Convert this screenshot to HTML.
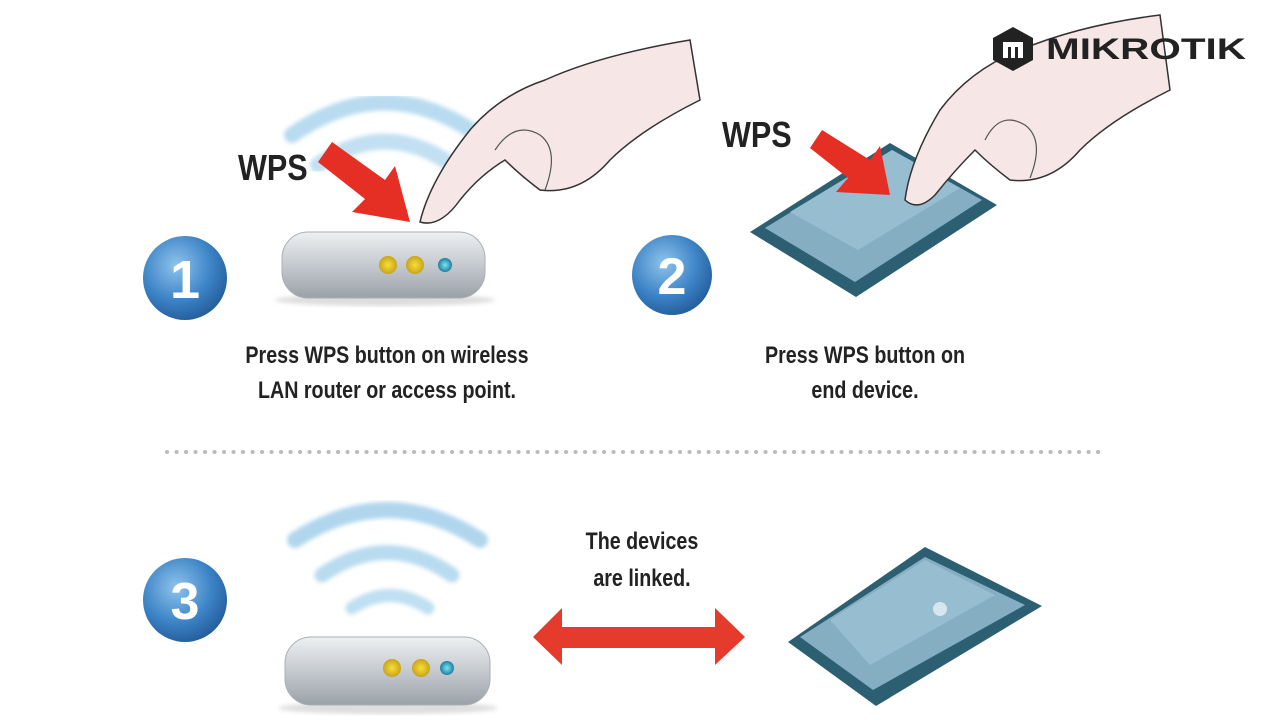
<!DOCTYPE html>
<html><head><meta charset="utf-8"><style>
html,body{margin:0;padding:0;background:#fff;width:1280px;height:720px;overflow:hidden}
svg{display:block}
text{font-family:"Liberation Sans",sans-serif}
</style></head><body>
<svg width="1280" height="720" viewBox="0 0 1280 720" xmlns="http://www.w3.org/2000/svg">
<defs>
<radialGradient id="cb" cx="0.4" cy="0.35" r="0.7"><stop offset="0" stop-color="#8fc3ec"/><stop offset="0.6" stop-color="#3c83c6"/><stop offset="1" stop-color="#225a98"/></radialGradient>
<linearGradient id="rt" x1="0" y1="0" x2="0" y2="1"><stop offset="0" stop-color="#eef0f2"/><stop offset="0.5" stop-color="#c5cacf"/><stop offset="1" stop-color="#9aa1a8"/></linearGradient>
<radialGradient id="yl"><stop offset="0" stop-color="#f8df3a"/><stop offset="1" stop-color="#c9a41a"/></radialGradient>
<radialGradient id="bl"><stop offset="0" stop-color="#7fe3f4"/><stop offset="1" stop-color="#1d7fa0"/></radialGradient>
<filter id="bx"><feGaussianBlur stdDeviation="2"/></filter>
</defs>

<!-- step 1 waves -->
<g filter="url(#bx)" fill="none" stroke-linecap="round">
<path d="M292,135 Q385,70 478,135" stroke-width="16" stroke="#b8dbf0"/>
<path d="M318,165 Q385,118 452,165" stroke-width="16" stroke="#c2e0f2"/>
</g>
<!-- hand 1 -->
<path d="M420,222 Q430,180 470,130 Q500,95 545,80 Q600,55 690,40 L700,100 Q640,130 610,160 Q580,195 540,190 Q520,175 505,160 Q480,175 460,200 Q440,228 420,222Z" fill="#f6e6e6" stroke="#333" stroke-width="1.5"/>
<path d="M495,150 Q515,120 540,135 Q560,150 545,190" fill="none" stroke="#555" stroke-width="1.2"/>
<!-- WPS 1 -->
<text x="238" y="180" font-size="36" font-weight="bold" fill="#222" transform="translate(238,180) scale(0.85,1) translate(-238,-180)">WPS</text>
<polygon points="318,162 332,142 385,180 395,166 410,222 352,212 365,199" fill="#e52f24"/>
<!-- router 1 -->
<ellipse cx="385" cy="300" rx="110" ry="6" fill="#ddd" filter="url(#bx)"/>
<rect x="282" y="232" width="203" height="66" rx="26" fill="url(#rt)" stroke="#a8afb5"/>
<circle cx="388" cy="265" r="9" fill="url(#yl)"/><circle cx="415" cy="265" r="9" fill="url(#yl)"/><circle cx="445" cy="265" r="7" fill="url(#bl)"/>
<!-- circle 1 -->
<circle cx="185" cy="278" r="42" fill="url(#cb)"/>
<text x="185" y="298" font-size="54" font-weight="bold" fill="#fff" text-anchor="middle">1</text>
<text x="387" y="363" font-size="24" font-weight="bold" fill="#222" text-anchor="middle" transform="translate(387,0) scale(0.82,1) translate(-387,0)">Press WPS button on wireless</text>
<text x="387" y="398" font-size="24" font-weight="bold" fill="#222" text-anchor="middle" transform="translate(387,0) scale(0.82,1) translate(-387,0)">LAN router or access point.</text>

<!-- step 2 device -->
<polygon points="750,232 890,143 997,205 856,297" fill="#2c5f72"/>
<polygon points="765,228 892,150 982,200 855,282" fill="#86aec2"/>
<polygon points="790,212 892,150 960,188 858,250" fill="#97bdd0"/>
<!-- hand 2 -->
<path d="M905,200 Q910,160 940,110 Q970,70 1020,50 Q1080,25 1160,15 L1170,90 Q1110,120 1080,150 Q1050,185 1010,180 Q990,165 975,150 Q955,170 935,195 Q918,212 905,200Z" fill="#f6e6e6" stroke="#333" stroke-width="1.5"/>
<path d="M985,140 Q1000,110 1025,125 Q1045,140 1030,178" fill="none" stroke="#555" stroke-width="1.2"/>
<text x="722" y="147" font-size="36" font-weight="bold" fill="#222" transform="translate(722,0) scale(0.85,1) translate(-722,0)">WPS</text>
<polygon points="810,148 822,130 870,160 880,146 890,195 836,192 848,178" fill="#e52f24"/>
<circle cx="672" cy="275" r="40" fill="url(#cb)"/>
<text x="672" y="294" font-size="52" font-weight="bold" fill="#fff" text-anchor="middle">2</text>
<text x="865" y="363" font-size="24" font-weight="bold" fill="#222" text-anchor="middle" transform="translate(865,0) scale(0.82,1) translate(-865,0)">Press WPS button on</text>
<text x="865" y="398" font-size="24" font-weight="bold" fill="#222" text-anchor="middle" transform="translate(865,0) scale(0.82,1) translate(-865,0)">end device.</text>

<!-- logo (on top of hand) -->
<g transform="translate(991,27)">
<polygon points="22,0 42,11 42,33 22,44 2,33 2,11" fill="#222"/>
<path d="M12,15 h20 v16 h-5 v-11 h-3 v11 h-4 v-11 h-3 v11 h-5z" fill="#fff"/>
</g>
<text x="1046" y="59" font-size="30" font-weight="bold" fill="#222" textLength="200" lengthAdjust="spacingAndGlyphs">MIKROTIK</text>

<!-- dotted line -->
<line x1="167" y1="452" x2="1105" y2="452" stroke="#bbb" stroke-width="4" stroke-dasharray="0.1 9.4" stroke-linecap="round"/>

<!-- step 3 -->
<circle cx="185" cy="600" r="42" fill="url(#cb)"/>
<text x="185" y="619" font-size="52" font-weight="bold" fill="#fff" text-anchor="middle">3</text>
<g filter="url(#bx)" fill="none" stroke-linecap="round">
<path d="M295,540 Q387,480 480,540" stroke-width="16" stroke="#b0d6ee"/>
<path d="M322,575 Q387,530 452,575" stroke-width="15" stroke="#b8dbf0"/>
<path d="M352,608 Q390,583 428,608" stroke-width="13" stroke="#bfdff2"/>
</g>
<ellipse cx="388" cy="708" rx="110" ry="6" fill="#ddd" filter="url(#bx)"/>
<rect x="285" y="637" width="205" height="68" rx="26" fill="url(#rt)" stroke="#a8afb5"/>
<circle cx="392" cy="668" r="9" fill="url(#yl)"/><circle cx="421" cy="668" r="9" fill="url(#yl)"/><circle cx="447" cy="668" r="7" fill="url(#bl)"/>
<text x="642" y="549" font-size="24" font-weight="bold" fill="#222" text-anchor="middle" transform="translate(642,0) scale(0.82,1) translate(-642,0)">The devices</text>
<text x="642" y="586" font-size="24" font-weight="bold" fill="#222" text-anchor="middle" transform="translate(642,0) scale(0.82,1) translate(-642,0)">are linked.</text>
<polygon points="533,637 562,608 562,627 715,627 715,608 745,637 715,665 715,648 562,648 562,665" fill="#e53b2c"/>
<polygon points="788,642 925,547 1042,606 876,706" fill="#2c5f72"/>
<polygon points="800,637 925,557 1025,605 873,690" fill="#86aec2"/>
<polygon points="830,620 925,560 995,595 870,665" fill="#97bdd0"/>
<circle cx="940" cy="609" r="7" fill="#d5e6ee"/>
</svg>
</body></html>
